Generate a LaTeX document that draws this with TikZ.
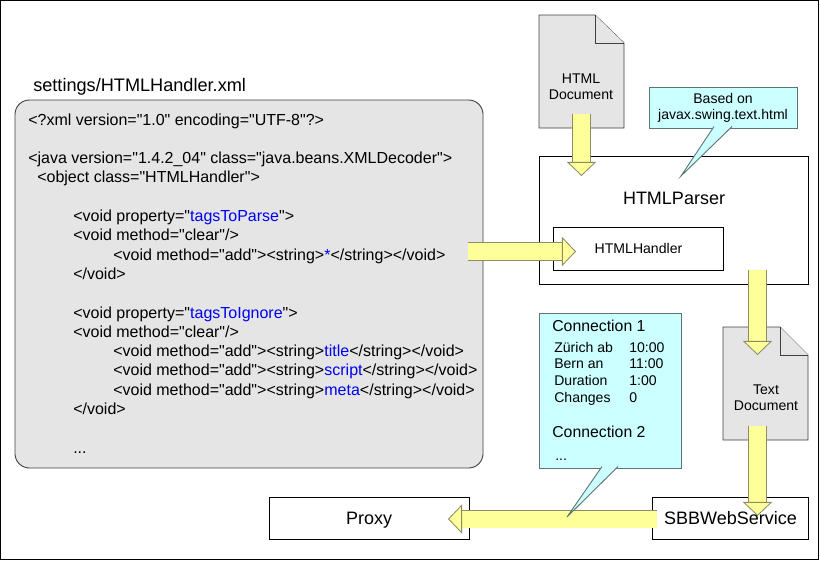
\documentclass[tikz,border=0pt]{standalone}
\usepackage{fontspec}
\setmainfont{Liberation Sans}[Ligatures=TeXOff]
\usetikzlibrary{arrows.meta}

\def\pxu{0.025cm}
\definecolor{grayfill}{HTML}{E5E5E5}
\definecolor{notefill}{HTML}{CCFFFF}
\definecolor{noteedge}{HTML}{5F7373}
\definecolor{arrowfill}{HTML}{FFFF99}
\definecolor{arrowedge}{HTML}{8C8C66}
\definecolor{tagblue}{HTML}{0000F0}
\tikzset{
   plainbox/.style={draw=black,fill=white,line width=0.6pt,inner sep=0pt,outer sep=0pt},
   notebox/.style={draw=noteedge,fill=notefill,line width=0.65pt,inner sep=0pt,outer sep=0pt},
   notetip/.style={draw=noteedge,fill=notefill,line width=0.65pt,line join=miter},
   docpage/.style={draw=black!75,fill=grayfill,line width=0.6pt,line join=miter},
   doclabel/.style={align=center,inner sep=0pt,font=\fontsize{10}{11.6}\selectfont},
   biglabel/.style={inner sep=0pt,font=\fontsize{12.8}{15}\selectfont},
   smalllabel/.style={inner sep=0pt,font=\fontsize{10}{12}\selectfont},
   xmlline/.style={anchor=base west,inner sep=0pt,font=\fontsize{11.38}{13}\selectfont},
   notehead/.style={anchor=base west,inner sep=0pt,font=\fontsize{11.25}{13}\selectfont},
   noterow/.style={anchor=base west,inner sep=0pt,font=\fontsize{10}{12}\selectfont},
   blockarrow/.style={line width=12.1pt,draw=arrowfill,
      -{Triangle[length=10pt,width=20.8pt,fill=arrowfill,color=arrowedge,line width=0.6pt]},
      preaction={draw=arrowedge,line width=13.1pt,-,shorten >=10pt}}
}

\begin{document}
\begin{tikzpicture}[x=\pxu,y=-\pxu]
   \useasboundingbox (0,0) rectangle (820,560);
   \draw [black,line width=0.8pt] (0.7,0.7) rectangle (818.3,559.3); % frame

   % xml file
   \node [xmlline,font=\fontsize{12.9}{15}\selectfont] (xmltitle) at (33,91) {settings/HTMLHandler.xml};
   \node [draw=black!75,fill=grayfill,line width=0.65pt,rounded corners=0.36cm,anchor=north west,outer sep=0pt,
      minimum width=468*\pxu,minimum height=368*\pxu] (xmlbox) at (15,100) {};
   \foreach \ind/\row/\txt in {
      28/0/{<?xml version="1.0" encoding="UTF-8"?>},
      28/2/{<java version="1.4.2\_04" class="java.beans.XMLDecoder">},
      37/3/{<object class="HTMLHandler">},
      73/5/{<void property="\textcolor{tagblue}{tagsToParse}">},
      73/6/{<void method="clear"/>},
      113/7/{<void method="add"><string>\textcolor{tagblue}{*}</string></void>},
      73/8/{</void>},
      73/10/{<void property="\textcolor{tagblue}{tagsToIgnore}">},
      73/11/{<void method="clear"/>},
      113/12/{<void method="add"><string>\textcolor{tagblue}{title}</string></void>},
      113/13/{<void method="add"><string>\textcolor{tagblue}{script}</string></void>},
      113/14/{<void method="add"><string>\textcolor{tagblue}{meta}</string></void>},
      73/15/{</void>},
      73/17/{...}}
      \node [xmlline] (xml\row) at (\ind,{125+19.3*\row}) {\txt};

   % documents
   \draw [docpage] (539,15) -- (595,15) -- (624,43) -- (624,128) -- (539,128) -- cycle; % html page
   \draw [docpage] (595,15) -- (595,43) -- (624,43);
   \node [doclabel] (htmldoc) at (581,86.5) {HTML\\Document};
   \draw [docpage] (723,327) -- (780,327) -- (808,355) -- (808,440) -- (723,440) -- cycle; % text page
   \draw [docpage] (780,327) -- (780,355) -- (808,355);
   \node [doclabel] (textdoc) at (766,398) {Text\\Document};

   % boxes
   \node [plainbox,anchor=north west,minimum width=269*\pxu,minimum height=128*\pxu] (parser) at (539,156) {};
   \node [plainbox,anchor=north west,minimum width=170*\pxu,minimum height=43*\pxu] (handler) at (553,227) {};
   \node [plainbox,anchor=north west,minimum width=200*\pxu,minimum height=42*\pxu] (proxy) at (269,497) {};
   \node [plainbox,anchor=north west,minimum width=156*\pxu,minimum height=42*\pxu] (sbb) at (652,497) {};

   % arrows
   \coordinate (htmlout) at (581.5,114);
   \coordinate (parserin) at (581.5,176);
   \coordinate (xmlout) at (468,251.5);
   \coordinate (handlerin) at (576,251.5);
   \coordinate (parserout) at (757.5,270);
   \coordinate (textin) at (757.5,355);
   \coordinate (textout) at (757.5,426);
   \coordinate (sbbin) at (757.5,516);
   \coordinate (sbbout) at (657,519);
   \coordinate (proxyin) at (448,519);
   \draw [blockarrow] (htmlout) -- (parserin);
   \draw [blockarrow] (xmlout) -- (handlerin);
   \draw [blockarrow] (parserout) -- (textin);
   \draw [blockarrow] (textout) -- (sbbin);
   \draw [blockarrow] (sbbout) -- (proxyin);

   % box labels
   \node [biglabel] (parserlabel) at (674,198) {HTMLParser};
   \node [smalllabel] (handlerlabel) at (638.5,248.5) {HTMLHandler};
   \node [biglabel,anchor=base] (proxylabel) at (369,524) {Proxy};
   \node [biglabel,anchor=base] (sbblabel) at (730.5,524) {SBBWebService};

   % notes
   \node [notebox,anchor=north west,minimum width=148*\pxu,minimum height=41*\pxu] (basednote) at (649,87) {};
   \node [doclabel] (basedlabel) at (723,108) {Based on\\javax.swing.text.html};
   \coordinate (basedleft) at (714,126.5);
   \coordinate (basedright) at (732,126.5);
   \coordinate (basedtip) at (681,176);
   \draw [notetip] (basedleft) -- (basedtip) -- (basedright);

   \node [notebox,anchor=north west,minimum width=142*\pxu,minimum height=155*\pxu] (connnote) at (539,313) {};
   \coordinate (connleft) at (602,466.5);
   \coordinate (connright) at (618,466.5);
   \coordinate (conntip) at (567,517);
   \draw [notetip] (connleft) -- (conntip) -- (connright);
   \node [notehead] (conn1) at (552,331.5) {Connection 1};
   \foreach \row/\name/\val in {0/Zürich ab/10:00,1/Bern an/11:00,2/Duration/1:00,3/Changes/0} {
      \node [noterow] (name\row) at (554,{352+16.7*\row}) {\name};
      \node [noterow] (val\row) at (629,{352+16.7*\row}) {\val};
   }
   \node [notehead] (conn2) at (552,437.5) {Connection 2};
   \node [noterow] (connmore) at (555,460) {...};
\end{tikzpicture}
\end{document}
